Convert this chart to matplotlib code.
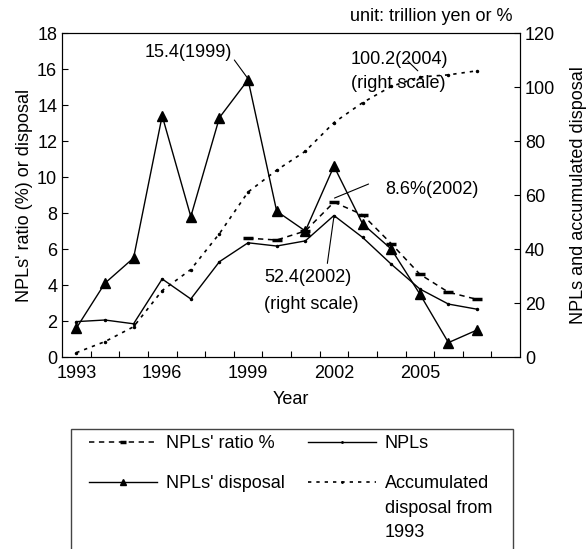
import matplotlib
matplotlib.use("Agg")
import matplotlib.pyplot as plt
from matplotlib.patches import Rectangle

plt.rcParams['font.family'] = ['Liberation Sans', 'DejaVu Sans']
plt.rcParams['font.size'] = 13

# data (trillion yen, %)
years = [1993, 1994, 1995, 1996, 1997, 1998, 1999, 2000, 2001, 2002, 2003, 2004, 2005, 2006, 2007]
disposal = [1.6, 4.1, 5.5, 13.4, 7.8, 13.3, 15.4, 8.1, 7.0, 10.6, 7.4, 6.0, 3.5, 0.8, 1.5]
accumulated = [1.6, 5.7, 11.2, 24.6, 32.4, 45.7, 61.1, 69.2, 76.2, 86.8, 94.2, 100.2, 103.7, 104.5, 106.0]
npls = [13.1, 13.7, 12.3, 28.9, 21.5, 35.3, 42.3, 41.1, 43.0, 52.4, 44.3, 34.4, 25.2, 19.6, 17.7]
ratio_years = [1999, 2000, 2001, 2002, 2003, 2004, 2005, 2006, 2007]
ratio = [6.6, 6.5, 7.0, 8.6, 7.9, 6.3, 4.6, 3.6, 3.2]

year_labels = [1993, 1996, 1999, 2002, 2005]
tick_edges = [y + 0.5 for y in years]

W, H = 588, 549
fig = plt.figure(figsize=(W / 100, H / 100), dpi=100)
ax = fig.add_axes([62 / W, 1 - 357 / H, 458 / W, 324 / H])
ax2 = ax.twinx()

ratio_line, = ax.plot(ratio_years, ratio, color='black', lw=1.1, linestyle=(0, (3.5, 3)),
                      marker='_', markersize=7, markeredgewidth=2.5)
disp_line, = ax.plot(years, disposal, color='black', lw=1.0, marker='^', markersize=7)
npl_line, = ax2.plot(years, npls, color='black', lw=1.0, marker='.', markersize=3)
acc_line, = ax2.plot(years, accumulated, color='black', lw=1.2, linestyle=(0, (2, 3)),
                     marker='.', markersize=3)

ax.set_xlim(1992.5, 2008.5)
ax.set_ylim(0, 18)
ax2.set_ylim(0, 120)
ax.set_yticks(range(0, 19, 2))
ax2.set_yticks(range(0, 121, 20))

ax.set_xticks(tick_edges)
ax.set_xticklabels([])
ax.set_xticks(year_labels, minor=True)
ax.set_xticklabels([str(y) for y in year_labels], minor=True)
ax.tick_params(axis='x', which='major', direction='in', length=4)
ax.tick_params(axis='x', which='minor', length=0, pad=6)
ax.tick_params(axis='y', direction='in', length=4)
ax2.tick_params(axis='y', direction='in', length=4)

ax.set_xlabel("Year", labelpad=6)
ax.set_ylabel("NPLs' ratio (%) or disposal", labelpad=3)
ax2.set_ylabel("NPLs and accumulated disposal", labelpad=11)
ax.text(1.0 - 7 / 458, 1.025, "unit: trillion yen or %", transform=ax.transAxes,
        ha='right', va='bottom')

# annotations with plain leader lines
lead = dict(arrowstyle='-', lw=0.8, color='black', shrinkA=0, shrinkB=0)
ax.text(1998.45, 16.9, "15.4(1999)", ha='right', va='center')
ax.annotate('', xy=(1998.98, 15.5), xytext=(1998.52, 16.5), arrowprops=lead)

ax.text(2002.6, 16.5, "100.2(2004)", ha='left', va='center')
ax.text(2002.6, 15.2, "(right scale)", ha='left', va='center')
ax.annotate('', xy=(2004.93, 15.9), xytext=(2004.58, 16.44), arrowprops=lead)

ax.text(2003.78, 9.28, "8.6%(2002)", ha='left', va='center')
ax.annotate('', xy=(2002.02, 8.83), xytext=(2003.21, 9.61), arrowprops=lead)

ax.text(1999.57, 4.4, "52.4(2002)", ha='left', va='center')
ax.text(1999.57, 2.94, "(right scale)", ha='left', va='center')
ax.annotate('', xy=(2001.99, 7.7), xytext=(2001.77, 5.2), arrowprops=lead)

# legend: frame drawn separately so it runs off the bottom edge
fig.patches.append(Rectangle((71 / W, -0.02), (513 - 71) / W, 1 - 429 / H + 0.02,
                             transform=fig.transFigure, fill=False,
                             edgecolor='#444444', lw=1.0))
handles = [ratio_line, disp_line, npl_line, acc_line]
labels = ["NPLs' ratio %", "NPLs' disposal", "NPLs", "Accumulated"]
leg = fig.legend(handles, labels, ncol=2, loc='upper left',
                 bbox_to_anchor=(89 / W, 1 - 435 / H), borderaxespad=0, borderpad=0,
                 handlelength=3.77, handletextpad=0.5, columnspacing=1.25,
                 labelspacing=1.3, markerscale=0.7, frameon=False)

fig.canvas.draw()
bb = leg.get_texts()[3].get_window_extent()
yc = (bb.y0 + bb.y1) / 2
fig.text(bb.x0 / W, (yc - 25) / H, "disposal from", ha='left', va='center')
fig.text(bb.x0 / W, (yc - 49) / H, "1993", ha='left', va='center')

fig.savefig("out.png", dpi=100)
